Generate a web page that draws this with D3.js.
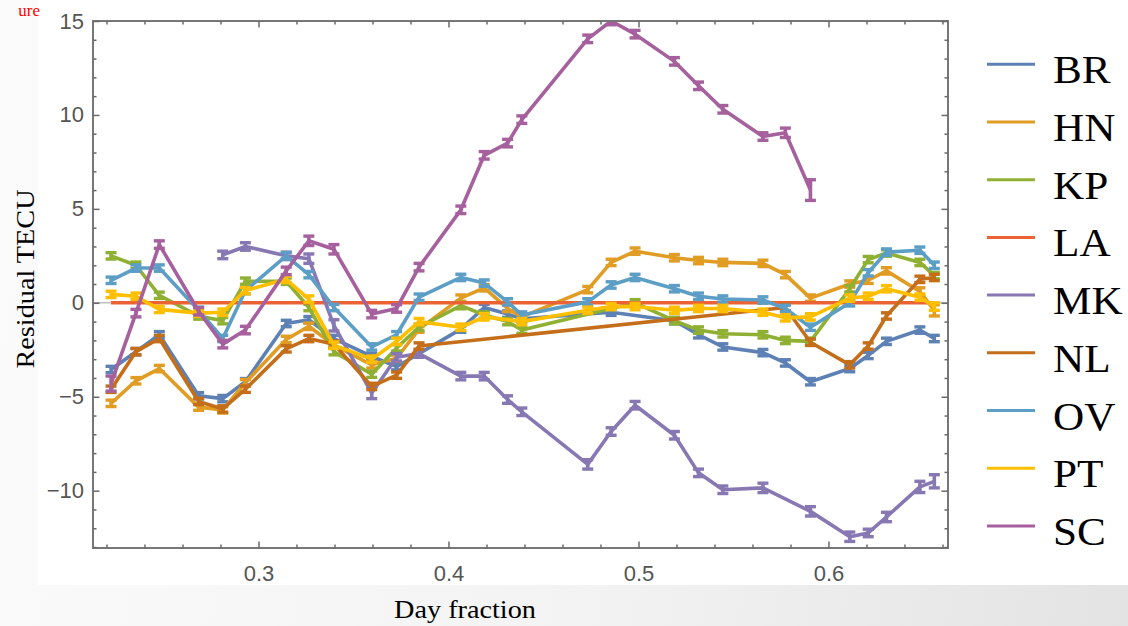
<!DOCTYPE html>
<html><head><meta charset="utf-8">
<script src="https://cdn.jsdelivr.net/npm/d3@7"></script>
<style>
html,body{margin:0;padding:0;width:1128px;height:626px;overflow:hidden;}
body{background:linear-gradient(100deg,#fbfbfb 0%,#f3f3f3 55%,#e3e3e3 100%);}
svg{display:block;}
</style></head><body>
<svg id="chart" width="1128" height="626"></svg>
<script>
// ---- data ----
const dayFraction = [0.2224,0.2355,0.2478,0.2685,0.2812,0.2931,0.3146,0.3265,0.3397,0.3596,0.3727,0.3845,0.4065,0.4188,0.4311,0.4386,0.4733,0.4856,0.4982,0.5189,0.5316,0.5444,0.5655,0.5773,0.5905,0.6112,0.6209,0.6305,0.6481,0.6557];
const seriesNames = ["BR","HN","KP","LA","MK","NL","OV","PT","SC"];
const seriesColors = ["#5E81B5","#E19C24","#8FB032","#EB6235","#8778B3","#C56E1A","#5D9EC7","#FFBF00","#A5609D"];
const BR = [-3.55,-2.6,-1.7,-4.95,-5.1,-4.2,-1.1,-0.9,-1.9,-2.85,-3.4,null,-1.4,-0.25,-0.6,-0.85,null,-0.5,null,-0.95,-1.7,-2.35,-2.65,-3.2,-4.2,-3.5,-2.8,-2.05,-1.45,-1.9];
const HN = [-5.35,-4.15,-3.5,-5.55,-5.7,-4.25,-1.95,-1.25,-2.25,-3.3,-2.95,-1.4,0.25,0.8,-0.3,-0.75,0.7,2.15,2.75,2.4,2.25,2.15,2.1,1.5,0.25,1.0,1.2,1.7,0.6,-0.4];
const KP = [2.5,2.0,0.4,-0.7,-0.95,1.15,1.15,-0.25,-2.6,-3.8,-2.4,-1.3,-0.15,-0.65,-1.0,-1.45,null,null,0.0,-0.95,-1.45,-1.65,-1.7,-2.0,-2.05,0.75,2.3,2.65,2.15,1.45];
const LA = [0,0,0,0,0,0,0,0,0,0,0,0,0,0,0,0,0,0,0,0,0,0,0,0,0,0,0,0,0,0];
const MK = [null,null,null,null,2.55,3.0,2.5,2.35,-1.2,-4.8,-2.9,-2.7,-3.9,-3.9,-5.15,-5.8,-8.6,-6.85,-5.45,-7.05,-9.05,-9.95,-9.85,null,-11.1,-12.45,-12.25,-11.4,-9.8,-9.5];
const NL = [-4.6,-2.6,-1.9,-5.25,-5.65,-4.6,-2.45,-1.9,-2.2,-4.45,-3.85,-2.3,null,null,null,null,null,null,null,null,null,null,null,-0.25,-2.1,-3.3,-2.3,-0.7,1.25,1.35];
const OV = [1.2,1.85,1.85,-0.4,-1.9,0.65,2.5,1.5,-0.25,-2.35,-1.7,0.3,1.35,1.05,0.05,-0.65,0.05,0.95,1.35,0.75,0.35,0.2,0.15,-0.3,-1.3,0.0,1.6,2.7,2.8,2.0];
const PT = [0.45,0.35,-0.35,-0.55,-0.5,0.65,1.25,0.2,-2.25,-3.0,-2.05,-1.0,-1.3,-0.75,null,-1.0,-0.4,-0.2,-0.2,-0.4,-0.3,-0.3,-0.5,-0.8,-0.75,0.25,0.35,0.75,0.3,-0.2];
const SC = [-4.3,-0.55,3.1,-0.45,-2.2,-1.45,1.7,3.3,2.85,-0.6,-0.3,1.9,4.95,7.85,8.5,9.75,14.05,15.0,14.3,12.85,11.55,10.3,8.85,9.05,6.0,null,null,null,null,null];
// error half-widths (TECU)
const errBR = [0.17,0.17,0.17,0.17,0.17,0.17,0.17,0.17,0.17,0.17,0.17,0.17,0.17,0.17,0.17,0.17,0.17,0.17,0.17,0.17,0.17,0.17,0.17,0.17,0.17,0.17,0.17,0.17,0.17,0.17];
const errHN = [0.17,0.17,0.17,0.17,0.17,0.17,0.17,0.17,0.17,0.17,0.17,0.17,0.17,0.17,0.17,0.17,0.17,0.17,0.17,0.17,0.17,0.17,0.17,0.17,0.17,0.17,0.17,0.17,0.2,0.3];
const errKP = [0.17,0.17,0.17,0.17,0.17,0.17,0.17,0.17,0.17,0.17,0.17,0.17,0.17,0.17,0.17,0.17,0.17,0.17,0.17,0.17,0.17,0.17,0.17,0.17,0.17,0.17,0.17,0.17,0.17,0.17];
const errLA = [0,0,0,0,0,0,0,0,0,0,0,0,0,0,0,0,0,0,0,0,0,0,0,0,0,0,0,0,0,0];
const errMK = [0.2,0.2,0.2,0.2,0.2,0.2,0.2,0.25,0.3,0.3,0.2,0.2,0.2,0.2,0.2,0.2,0.25,0.2,0.2,0.2,0.2,0.2,0.25,0.2,0.25,0.25,0.2,0.25,0.3,0.35];
const errNL = [0.17,0.17,0.17,0.17,0.17,0.17,0.17,0.17,0.17,0.17,0.17,0.17,0.17,0.17,0.17,0.17,0.17,0.17,0.17,0.17,0.17,0.17,0.17,0.17,0.17,0.17,0.17,0.17,0.17,0.17];
const errOV = [0.17,0.17,0.17,0.17,0.17,0.17,0.17,0.17,0.17,0.17,0.17,0.17,0.17,0.17,0.17,0.17,0.17,0.17,0.17,0.17,0.17,0.17,0.17,0.17,0.17,0.17,0.17,0.17,0.17,0.17];
const errPT = [0.17,0.17,0.17,0.17,0.17,0.17,0.17,0.17,0.17,0.17,0.17,0.17,0.17,0.17,0.17,0.17,0.17,0.17,0.17,0.17,0.17,0.17,0.17,0.17,0.17,0.17,0.17,0.17,0.17,0.2];
const errSC = [0.4,0.2,0.2,0.2,0.2,0.2,0.2,0.25,0.25,0.2,0.2,0.2,0.2,0.2,0.2,0.2,0.2,0.2,0.2,0.2,0.2,0.2,0.2,0.25,0.55,0,0,0,0,0];
const xMajorTicks = [0.3,0.4,0.5,0.6];
const yMajorTicks = [-10,-5,0,5,10,15];
const xLabel = "Day fraction";
const yLabel = "Residual TECU";

const values = [BR,HN,KP,LA,MK,NL,OV,PT,SC];
const errors = [errBR,errHN,errKP,errLA,errMK,errNL,errOV,errPT,errSC];

// ---- layout ----
const L = 93, R = 948, T = 21, B = 548;
const svg = d3.select("#chart");
const x = d3.scaleLinear().domain([0.2129, 0.6629]).range([L, R]);
const y = d3.scaleLinear().domain([-13.05, 15]).range([B, T]);

// white panel
svg.append("rect").attr("x",38).attr("y",0).attr("width",1090).attr("height",585).attr("fill","#ffffff");

// red heading remnant (top-left)
svg.append("text").attr("x",40).attr("y",16).attr("text-anchor","end")
  .attr("font-family","Liberation Serif, serif").attr("font-size",17).attr("fill","#ff0000").text("ure");

// clip
svg.append("clipPath").attr("id","plotclip").append("rect").attr("x",L).attr("y",T).attr("width",R-L).attr("height",B-T);

// zero axis line
svg.append("line").attr("x1",L).attr("x2",R).attr("y1",y(0)).attr("y2",y(0)).attr("stroke","#a0a0a0").attr("stroke-width",1);

const plot = svg.append("g").attr("clip-path","url(#plotclip)");
const line = d3.line().x(d=>x(d.x)).y(d=>y(d.v));
values.forEach((vals,si)=>{
  const pts = dayFraction.map((xx,i)=>({x:xx,v:vals[i],e:errors[si][i]})).filter(d=>d.v!==null);
  const col = seriesColors[si];
  const g = plot.append("g");
  g.append("path").datum(pts).attr("d",line).attr("fill","none").attr("stroke",col)
    .attr("stroke-width",3.6).attr("stroke-linejoin","round").attr("stroke-linecap","butt");
  if (seriesNames[si] !== "LA") {
    pts.forEach(d=>{
      const y1 = y(d.v + d.e), y2 = y(d.v - d.e), cx = x(d.x), hw = 5.5;
      g.append("line").attr("x1",cx).attr("x2",cx).attr("y1",y1).attr("y2",y2).attr("stroke",col).attr("stroke-width",3.6);
      g.append("line").attr("x1",cx-hw).attr("x2",cx+hw).attr("y1",y1).attr("y2",y1).attr("stroke",col).attr("stroke-width",3.4);
      g.append("line").attr("x1",cx-hw).attr("x2",cx+hw).attr("y1",y2).attr("y2",y2).attr("stroke",col).attr("stroke-width",3.4);
    });
  }
});

// frame
const tickCol = "#6a6a6a";
svg.append("rect").attr("x",L).attr("y",T).attr("width",R-L).attr("height",B-T)
  .attr("fill","none").attr("stroke","#777").attr("stroke-width",2);

function styleAxis(g){ g.select(".domain").remove(); g.selectAll(".tick line").attr("stroke",tickCol).attr("stroke-width",1.5); }
const xMinor = x.ticks(25).filter(t=>!xMajorTicks.some(m=>Math.abs(m-t)<1e-9));
const yMinor = y.ticks(30).filter(t=>!yMajorTicks.some(m=>Math.abs(m-t)<1e-9));

// bottom
svg.append("g").attr("transform",`translate(0,${B})`).call(d3.axisBottom(x).tickValues(xMinor).tickSize(-3.5).tickFormat("")).call(styleAxis);
svg.append("g").attr("transform",`translate(0,${B})`).call(d3.axisBottom(x).tickValues(xMajorTicks).tickSize(-6.5).tickPadding(17).tickFormat(d3.format(".1f"))).call(styleAxis);
// top
svg.append("g").attr("transform",`translate(0,${T})`).call(d3.axisTop(x).tickValues(xMinor).tickSize(-3.5).tickFormat("")).call(styleAxis);
svg.append("g").attr("transform",`translate(0,${T})`).call(d3.axisTop(x).tickValues(xMajorTicks).tickSize(-6.5).tickFormat("")).call(styleAxis);
// left
svg.append("g").attr("transform",`translate(${L},0)`).call(d3.axisLeft(y).tickValues(yMinor).tickSize(-3.5).tickFormat("")).call(styleAxis);
svg.append("g").attr("transform",`translate(${L},0)`).call(d3.axisLeft(y).tickValues(yMajorTicks).tickSize(-6.5).tickPadding(9).tickFormat(d=>d<0?"\u2212"+Math.abs(d):String(d))).call(styleAxis);
// right
svg.append("g").attr("transform",`translate(${R},0)`).call(d3.axisRight(y).tickValues(yMinor).tickSize(-3.5).tickFormat("")).call(styleAxis);
svg.append("g").attr("transform",`translate(${R},0)`).call(d3.axisRight(y).tickValues(yMajorTicks).tickSize(-6.5).tickFormat("")).call(styleAxis);

svg.selectAll(".tick text").attr("font-family","Liberation Sans, Arial, sans-serif").attr("font-size",22).attr("fill","#555");

// axis labels
svg.append("text").attr("transform",`translate(465,618) scale(1.13,1)`).attr("text-anchor","middle")
  .attr("font-family","Liberation Serif, serif").attr("font-size",25).attr("fill","#000").text(xLabel);
svg.append("text").attr("transform",`translate(34,279) rotate(-90) scale(1.13,1)`).attr("text-anchor","middle")
  .attr("font-family","Liberation Serif, serif").attr("font-size",25).attr("fill","#000").text(yLabel);

// legend
const lg = svg.append("g");
seriesNames.forEach((n,i)=>{
  const ly = 64.3 + i*57.7;
  lg.append("line").attr("x1",987).attr("x2",1035).attr("y1",ly).attr("y2",ly).attr("stroke",seriesColors[i]).attr("stroke-width",3);
  lg.append("text").attr("transform",`translate(1053,${ly+19}) scale(1.08,1)`).attr("font-family","Liberation Serif, serif")
    .attr("font-size",40).attr("fill","#000").text(n);
});
</script>
</body></html>
